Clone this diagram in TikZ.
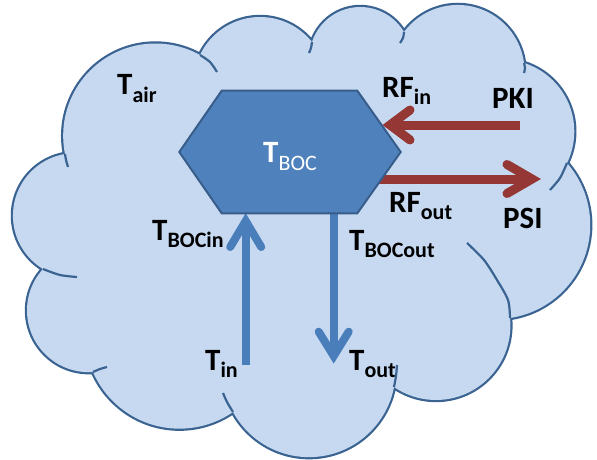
\documentclass[tikz,border=0pt]{standalone}
\usepackage{fontspec}
\setmainfont{Carlito}
\usetikzlibrary{calc}
\definecolor{cloudfill}{HTML}{C6D9F1}
\definecolor{cloudline}{HTML}{3A6391}
\definecolor{hexfill}{HTML}{4F81BD}
\definecolor{hexline}{HTML}{385D8A}
\definecolor{arrred}{HTML}{953735}
\definecolor{arrblue}{HTML}{4A7EBB}
\newcommand\sublbl[2]{\textbf{#1}\raisebox{-7.5pt}{\fontsize{22}{22}\selectfont\textbf{#2}}}
% circle through three points (pixel coordinates), drawn with style #1
\newcommand\cloudlobe[7]{%
  \pgfmathsetmacro\lbAx{(#4-#2)/100}%
  \pgfmathsetmacro\lbAy{(#5-#3)/100}%
  \pgfmathsetmacro\lbBx{(#6-#2)/100}%
  \pgfmathsetmacro\lbBy{(#7-#3)/100}%
  \pgfmathsetmacro\lbDet{2*(\lbAx*\lbBy-\lbAy*\lbBx)}%
  \pgfmathsetmacro\lbUx{(\lbBy*(\lbAx*\lbAx+\lbAy*\lbAy)-\lbAy*(\lbBx*\lbBx+\lbBy*\lbBy))/\lbDet}%
  \pgfmathsetmacro\lbUy{(\lbAx*(\lbBx*\lbBx+\lbBy*\lbBy)-\lbBx*(\lbAx*\lbAx+\lbAy*\lbAy))/\lbDet}%
  \pgfmathsetmacro\lbR{100*sqrt(\lbUx*\lbUx+\lbUy*\lbUy)}%
  \path[#1] ({#2+100*\lbUx},{#3+100*\lbUy}) circle[radius=\lbR pt];%
}
\newcommand\alllobes[1]{%
  \cloudlobe{#1}{65}{154}{100}{62}{200}{55}%
  \cloudlobe{#1}{200}{55}{260}{17}{312}{42}%
  \cloudlobe{#1}{312}{42}{360}{7}{404}{32}%
  \cloudlobe{#1}{404}{32}{455}{5}{524}{63}%
  \cloudlobe{#1}{524}{63}{567}{100}{567}{163}%
  \cloudlobe{#1}{567}{163}{589}{240}{510}{318}%
  \cloudlobe{#1}{510}{318}{460}{396}{394}{387}%
  \cloudlobe{#1}{394}{387}{314}{457}{233}{412}%
  \cloudlobe{#1}{233}{412}{140}{420}{93}{372}%
  \cloudlobe{#1}{93}{372}{27}{310}{43}{269}%
  \cloudlobe{#1}{43}{269}{13}{213}{65}{154}%
}
\begin{document}
\begin{tikzpicture}[x=1pt,y=-1pt,
  lobestroke/.style={draw=cloudline,line width=4.4pt},
  lobefill/.style={fill=cloudfill},
  cloudinner/.style={draw=cloudline,line width=2.2pt,line cap=butt},
  hexshape/.style={fill=hexfill,draw=hexline,line width=2pt,line join=miter},
  lab/.style={anchor=base west,inner sep=0pt,font=\fontsize{31}{31}\selectfont},
  redshaft/.style={draw=arrred,line width=9pt},
  redhead/.style={draw=arrred,line width=9pt,line cap=round,line join=miter},
  blueshaft/.style={draw=arrblue,line width=8pt},
  bluehead/.style={draw=arrblue,line width=8pt,line cap=round,line join=miter}]
\useasboundingbox[fill=white] (0,0) rectangle (597,460);
% cloud: strokes of all lobes, then fills on top leave only the outer outline
\alllobes{lobestroke}
\alllobes{lobefill}
\fill[cloudfill] (65,154) -- (200,55) -- (312,42) -- (404,32) -- (524,63) -- (567,163)
  -- (510,318) -- (394,387) -- (233,412) -- (93,372) -- (43,269) -- cycle;
% inner arcs of the cloud
\draw[cloudinner] plot[smooth] coordinates {(65,154) (66,160) (68,167)};
\draw[cloudinner] plot[smooth] coordinates {(200,55) (210,62) (217,72)};
\draw[cloudinner] plot[smooth] coordinates {(312,42) (311,48) (309,53)};
\draw[cloudinner] plot[smooth] coordinates {(404,32) (403,38) (400,43)};
\draw[cloudinner] plot[smooth] coordinates {(524,63) (525,68) (524,73)};
\draw[cloudinner] plot[smooth] coordinates {(567,163) (560,178) (550,190)};
\draw[cloudinner] plot[smooth] coordinates {(510,318) (508,300) (497,280) (484,260) (467,243)};
\draw[cloudinner] plot[smooth] coordinates {(394,387) (396,376) (397,365)};
\draw[cloudinner] plot[smooth] coordinates {(233,412) (227,402) (223,393)};
\draw[cloudinner] plot[smooth] coordinates {(93,372) (100,369) (107,367)};
\draw[cloudinner] plot[smooth] coordinates {(43,269) (60,275) (77,277)};
% hexagon corners
\coordinate (h1) at (221.7,90.7);
\coordinate (h2) at (357.3,90.7);
\coordinate (h3) at (400.7,152);
\coordinate (h4) at (357.3,213.3);
\coordinate (h5) at (221.7,213.3);
\coordinate (h6) at (179.3,152);
% arrow end points
\coordinate (pkiend) at (520,125);
\coordinate (rfinV) at (390,125);
\coordinate (rfoutS) at (372,179);
\coordinate (rfoutV) at (532,179);
\coordinate (tinend) at (245.7,365);
\coordinate (bocinV) at (245.7,221);
\coordinate (bocoutS) at (333.7,200);
\coordinate (toutV) at (333.7,356);
% arrows
\draw[redshaft] (pkiend) -- (rfinV);
\draw[redhead] ($(rfinV)+(20,-15)$) -- (rfinV) -- ($(rfinV)+(20,15)$);
\draw[redshaft] (rfoutS) -- (rfoutV);
\draw[redhead] ($(rfoutV)+(-25,-14.5)$) -- (rfoutV) -- ($(rfoutV)+(-25,14.5)$);
\draw[blueshaft] (tinend) -- (bocinV);
\draw[bluehead] ($(bocinV)+(-15.5,26)$) -- (bocinV) -- ($(bocinV)+(15.5,26)$);
\draw[blueshaft] (bocoutS) -- (toutV);
\draw[bluehead] ($(toutV)+(-15,-24.3)$) -- (toutV) -- ($(toutV)+(15,-24.3)$);
% hexagon
\draw[hexshape] (h1) -- (h2) -- (h3) -- (h4) -- (h5) -- (h6) -- cycle;
\node[lab,text=white] (boc) at (263,162) {\textbf{T}\raisebox{-8pt}{\fontsize{22}{22}\selectfont BOC}};
% labels
\node[lab] (tair) at (117,95) {\sublbl{T}{air}};
\node[lab] (rfin) at (382,97) {\sublbl{RF}{in}};
\node[lab] (pki) at (492,108) {\textbf{PKI}};
\node[lab] (rfout) at (389,212) {\sublbl{RF}{out}};
\node[lab] (psi) at (503,228) {\textbf{PSI}};
\node[lab] (tbocin) at (152,240) {\sublbl{T}{BOCin}};
\node[lab] (tbocout) at (349,250) {\sublbl{T}{BOCout}};
\node[lab] (tin) at (205,370) {\sublbl{T}{in}};
\node[lab] (tout) at (349,370) {\sublbl{T}{out}};
\end{tikzpicture}
\end{document}
